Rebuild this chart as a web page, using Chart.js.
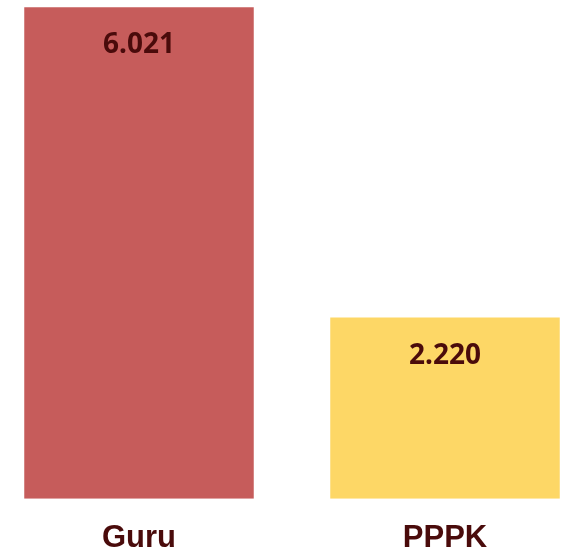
<!DOCTYPE html>
<html>
<head>
<meta charset="utf-8">
<script src="https://cdn.jsdelivr.net/npm/chart.js@4/dist/chart.umd.min.js"></script>
<style>
  html, body { margin: 0; padding: 0; background: #fff; overflow: hidden; }
  #wrap { position: absolute; left: -14px; top: 0; width: 612px; height: 578px; }
</style>
</head>
<body>
<div id="wrap"><canvas id="chart"></canvas></div>
<script>
// data
const categories = ['Guru', 'PPPK'];
const values = [6021, 2220];
const valueLabels = ['6.021', '2.220'];
const barColors = ['#C65C5B', '#FDD766'];

// value labels inside the bars
const insideLabels = {
    id: 'insideLabels',
    afterDatasetsDraw(chart) {
        const ctx = chart.ctx;
        const meta = chart.getDatasetMeta(0);
        ctx.save();
        ctx.font = 'bold 28px "Noto Sans", sans-serif';
        ctx.fillStyle = '#4A0B0B';
        ctx.textAlign = 'center';
        ctx.textBaseline = 'middle';
        meta.data.forEach(function (bar, i) {
            ctx.fillText(valueLabels[i], bar.x, bar.y + 38);
        });
        ctx.restore();
    }
};

new Chart(document.getElementById('chart').getContext('2d'), {
    type: 'bar',
    data: {
        labels: categories,
        datasets: [{
            data: values,
            backgroundColor: barColors,
            borderWidth: 0,
            barPercentage: 1,
            categoryPercentage: 0.75
        }]
    },
    options: {
        responsive: true,
        maintainAspectRatio: false,
        animation: false,
        layout: { padding: 0 },
        plugins: {
            legend: { display: false },
            tooltip: { enabled: false }
        },
        scales: {
            x: {
                grid: { display: false, drawTicks: false },
                border: { display: false },
                ticks: {
                    padding: 21,
                    color: '#4A0B0B',
                    font: { family: '"Liberation Sans", Arial, sans-serif', size: 31, weight: 'bold' }
                }
            },
            y: {
                display: false,
                min: 0,
                max: 6110
            }
        }
    },
    plugins: [insideLabels]
});
</script>
</body>
</html>
